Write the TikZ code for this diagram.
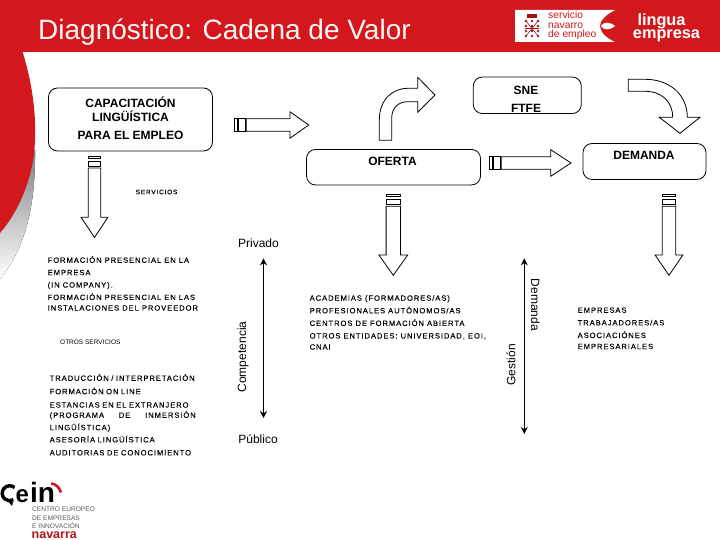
\documentclass[tikz,border=0pt]{standalone}
\usepackage{fontspec}
\setmainfont{Liberation Sans}
\usetikzlibrary{arrows.meta}
\definecolor{hdr}{HTML}{D2181C}
\definecolor{shade}{HTML}{B4B4B4}
\newfontfamily\spaced[LetterSpace=12.3,FakeBold=0.06]{Liberation Sans}
\tikzset{
 x=1pt,y=-1pt,
 rbox/.style={draw=black,line width=0.8pt,rounded corners=9pt,fill=white},
 blockarrow/.style={draw=black,line width=0.8pt,fill=white,line join=miter},
 boxlabel/.style={font=\fontsize{12}{16}\selectfont\bfseries,align=center,inner sep=0pt},
 small/.style={font=\fontsize{7.6}{12.4}\selectfont\spaced,align=left,anchor=north west,inner sep=0pt},
 axislabel/.style={font=\fontsize{12}{14}\selectfont,inner sep=0pt},
 axisline/.style={line width=1.6pt,{Stealth[length=7pt,width=7pt]}-{Stealth[length=7pt,width=7pt]}},
 pics/downarr/.style args={#1/#2/#3}{code={%
  \draw[blockarrow] (-#1,0) rectangle (#1,2.4);
  \draw[blockarrow] (-#1,5) rectangle (#1,10.4);
  \draw[blockarrow] (-#1,12) -- (#1,12) -- (#1,#2) -- (#1+7.2,#2) -- (0,#3) -- (-#1-7.2,#2) -- (-#1,#2) -- cycle;
 }},
 pics/rightarr/.style args={#1/#2/#3}{code={%
  \draw[blockarrow] (0,-#1) rectangle (3,#1);
  \draw[blockarrow] (4.5,-#1) rectangle (11,#1);
  \draw[blockarrow] (12,-#1) -- (#2,-#1) -- (#2,-#1-7) -- (#3,0) -- (#2,#1+7) -- (#2,#1) -- (12,#1) -- cycle;
 }},
}
\begin{document}
\begin{tikzpicture}
\useasboundingbox (0,0) rectangle (720,540);
\fill[white] (0,0) rectangle (720,540);
% background shapes
\fill[shade] (0,150) -- (35,150) .. controls (35.5,200) and (28,245) .. (0,279) -- cycle;
\fill[hdr] (0,0) rectangle (720,52.5);
\fill[hdr] (0,50) -- (22,50) .. controls (33,85) and (36,115) .. (35,140) .. controls (34,175) and (20,210) .. (0,233) -- cycle;
% title
\node[font=\fontsize{28}{30}\selectfont,text=white!96!hdr,anchor=base west,inner sep=0pt] (title) at (38,40) {Diagnóstico: Cadena de Valor};
% logos
\fill[white] (515,10) -- (615,10) .. controls (605,15) and (600,21) .. (600,26) .. controls (600,32) and (606,38) .. (615,42) -- (515,42) -- cycle;
\fill[white] (601,26) .. controls (603,22) and (609,21) .. (615,26) .. controls (609,31) and (603,30) .. (601,26) -- cycle;
\fill[hdr!75!black] (527,14) rectangle (537,18);
\foreach \cx in {526,532,538} \foreach \cy in {21,26,31,36} \fill[hdr!75!black] (\cx,\cy) circle (1.4pt);
\draw[hdr!75!black,line width=0.6pt] (526,21) -- (538,36) (538,21) -- (526,36) (525,28.5) -- (539,28.5);
\node[font=\fontsize{10.3}{9.5}\selectfont,text=hdr,align=left,anchor=west,inner sep=0pt] (sne) at (548,25.8) {servicio\\navarro\\de empleo};
\node[font=\fontsize{16.3}{13.5}\selectfont\bfseries,text=white,align=center,inner sep=0pt] (lingua) at (666.5,28) {lingua\kern10pt\\empresa};
% boxes
\node[rbox,minimum width=164pt,minimum height=63pt] (cap) at (130.5,119.5) {};
\node[boxlabel,font=\fontsize{12}{14.5}\selectfont\bfseries] (captext) at (130.5,118) {CAPACITACIÓN\\LINGÜÍSTICA\\[3.5pt]PARA EL EMPLEO};
\node[rbox,minimum width=108pt,minimum height=36.5pt] (snebox) at (527.3,95.3) {};
\node[boxlabel,font=\fontsize{12}{18}\selectfont\bfseries] (snetext) at (526,99) {SNE\\FTFE};
\node[rbox,minimum width=174pt,minimum height=35.5pt] (oferta) at (393.5,167.2) {};
\node[boxlabel] (ofertatext) at (392.5,161.5) {OFERTA};
\node[rbox,minimum width=123pt,minimum height=36pt] (demanda) at (644.5,161.5) {};
\node[boxlabel] (demandatext) at (644,155.5) {DEMANDA};
% block arrows
\pic at (234.3,125) {rightarr=6.2/55.7/74.4};
\pic at (489.3,163) {rightarr=6.3/61.4/81.7};
\pic at (94.5,156) {downarr=6.2/61.3/81.5};
\pic at (393.3,194.3) {downarr=7.2/60.7/81};
\pic at (669,194.3) {downarr=6.7/60.7/81};
\draw[blockarrow] (379.3,140.3) -- (379.3,120) .. controls (379.3,100) and (392,88.3) .. (408,88.3) -- (417.7,88.3) -- (417.7,77.3) -- (435,95) -- (417.7,112.3) -- (417.7,101.7) -- (408,101.7) .. controls (398,101.7) and (391.7,108) .. (391.7,118) -- (391.7,140.3) -- cycle;
\draw[blockarrow] (628.3,79.3) -- (645,79.3) .. controls (670,79.3) and (687.3,95) .. (687.3,117.3) -- (700,117.3) -- (680,133.3) -- (659.3,117.3) -- (672.7,117.3) .. controls (672.7,102) and (662,91.3) .. (645,91.3) -- (628.3,91.3) -- cycle;
% small labels
\node[small,font=\fontsize{6.5}{8}\selectfont\spaced] (serv) at (135.5,189.5) {SERVICIOS};
\node[small] (form) at (47.5,256) {FORMACIÓN PRESENCIAL EN LA\\EMPRESA\\(IN COMPANY).\\FORMACIÓN PRESENCIAL EN LAS\\[-1.8pt]INSTALACIONES DEL PROVEEDOR};
\node[small,font=\fontsize{6.5}{8}\selectfont] (otros) at (60,339.3) {OTROS SERVICIOS};
\node[small,text width=146pt] (trad) at (49.5,374) {TRADUCCIÓN / INTERPRETACIÓN\\[1pt]FORMACIÓN ON LINE\\[1pt]ESTANCIAS EN EL EXTRANJERO\\[-2.2pt](PROGRAMA\hfill DE\hfill INMERSIÓN\\LINGÜÍSTICA)\\[-0.2pt]ASESORÍA LINGÜÍSTICA\\[0.6pt]AUDITORIAS DE CONOCIMIENTO};
\node[small,font=\fontsize{7.6}{12.6}\selectfont\spaced] (acad) at (309.5,295) {ACADEMIAS (FORMADORES/AS)\\PROFESIONALES AUTÓNOMOS/AS\\CENTROS DE FORMACIÓN ABIERTA\\OTROS ENTIDADES: UNIVERSIDAD, EOI,\\[-1.5pt]CNAI};
\node[small,font=\fontsize{7.6}{12.6}\selectfont\spaced] (emp) at (577.5,307.3) {EMPRESAS\\TRABAJADORES/AS\\ASOCIACIÓNES\\[-1.5pt]EMPRESARIALES};
% axes
\coordinate (pa) at (263.5,258.3); \coordinate (pb) at (263.5,418);
\coordinate (ga) at (524.3,258.3); \coordinate (gb) at (524.3,434);
\draw[axisline] (pa) -- (pb);
\draw[axisline] (ga) -- (gb);
\node[axislabel] (priv) at (258.5,243) {Privado};
\node[axislabel] (pub) at (258,439) {Público};
\node[axislabel,rotate=90] (comp) at (243,357) {Competencia};
\node[axislabel,rotate=90] (gest) at (511,365) {Gestión};
\node[axislabel,rotate=-90] (dem) at (535.5,305) {Demanda};
% CEIN logo
\draw[black,line width=3.4pt] (14.5,487.5) arc[start angle=50,end angle=300,radius=7.5pt];
\fill[black] (8,501) -- (13,502) -- (12,506) -- cycle;
\node[font=\fontsize{24}{24}\selectfont\bfseries,anchor=base west,inner sep=0pt] (ceine) at (15.5,502) {e};
\node[font=\fontsize{28}{28}\selectfont\bfseries,anchor=base west,inner sep=0pt] (ceinin) at (30,502) {in};
\draw[hdr,line width=2.6pt] (51,483.5) .. controls (56,484) and (59,487) .. (61,492.5);
\node[font=\fontsize{6.6}{8.3}\selectfont,text=black!65,align=left,anchor=north west,inner sep=0pt] (cen) at (32,507) {CENTRO EUROPEO\\DE EMPRESAS\\E INNOVACIÓN};
\node[font=\fontsize{12.5}{12}\selectfont\bfseries,text=hdr!85!black,anchor=base west,inner sep=0pt] (nav) at (31.5,538.7) {navarra};
\end{tikzpicture}
\end{document}
